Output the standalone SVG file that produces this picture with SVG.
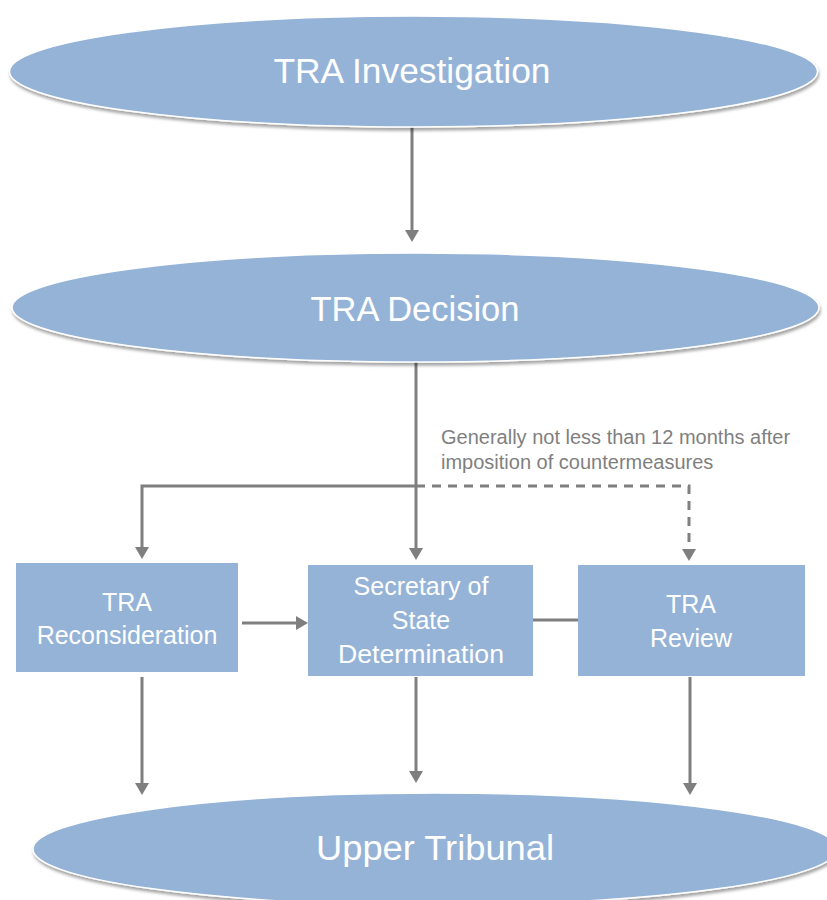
<svg xmlns="http://www.w3.org/2000/svg" width="827" height="900" viewBox="0 0 827 900">
  <style>
    .node { fill: #95b3d7; }
    .oval { fill: #95b3d7; stroke: #ffffff; stroke-width: 1.5; filter: url(#shadow); }
    .title { font-family: "Liberation Sans", Arial, sans-serif; font-size: 35px; fill: #ffffff; text-anchor: middle; }
    .label { font-family: "Liberation Sans", Arial, sans-serif; font-size: 25px; fill: #ffffff; text-anchor: middle; }
    .note { font-family: "Liberation Sans", Arial, sans-serif; font-size: 20px; fill: #7f7f7f; }
    .conn { fill: none; stroke: #7f7f7f; stroke-width: 3; }
    .arrow { marker-end: url(#ah); }
    .dash { stroke-dasharray: 9 7; }
  </style>
  <defs>
    <filter id="shadow" x="-5%" y="-20%" width="110%" height="150%">
      <feDropShadow dx="1" dy="3" stdDeviation="1.5" flood-color="#000000" flood-opacity="0.35"/>
    </filter>
    <marker id="ah" viewBox="0 0 12 14" refX="0" refY="7" markerWidth="12" markerHeight="14" markerUnits="userSpaceOnUse" orient="auto">
      <path d="M0,0 L12,7 L0,14 z" fill="#7f7f7f"/>
    </marker>
  </defs>
  <rect width="827" height="900" fill="#ffffff"/>

  <g id="connectors">
    <path class="conn arrow" d="M412,127 V230"/>
    <path class="conn arrow" d="M416,362 V548"/>
    <path class="conn arrow" d="M416,486 H142 V547"/>
    <path class="conn dash arrow" d="M416,486 H689 V549"/>
    <path class="conn arrow" d="M242,623 H296"/>
    <path class="conn" d="M533,620 H578"/>
    <path class="conn arrow" d="M142,677 V783"/>
    <path class="conn arrow" d="M416,677 V771"/>
    <path class="conn arrow" d="M690,677 V783"/>
  </g>

  <g id="note">
    <text class="note" x="441" y="444">Generally not less than 12 months after</text>
    <text class="note" x="441" y="469">imposition of countermeasures</text>
  </g>

  <g id="tra-investigation">
    <ellipse class="oval" cx="413.5" cy="71.5" rx="404" ry="55.5"/>
    <text class="title" x="412" y="83" textLength="277" lengthAdjust="spacingAndGlyphs">TRA Investigation</text>
  </g>

  <g id="tra-decision">
    <ellipse class="oval" cx="415.5" cy="307.5" rx="403.5" ry="54.5"/>
    <text class="title" x="415" y="321" textLength="209" lengthAdjust="spacingAndGlyphs">TRA Decision</text>
  </g>

  <g id="tra-reconsideration">
    <rect class="node" x="16" y="563" width="222" height="109"/>
    <text class="label" x="127" y="611">TRA</text>
    <text class="label" x="127" y="644">Reconsideration</text>
  </g>

  <g id="sos-determination">
    <rect class="node" x="308" y="565" width="225" height="111"/>
    <text class="label" x="421" y="595">Secretary of</text>
    <text class="label" x="421" y="629">State</text>
    <text class="label" x="421" y="663" textLength="166" lengthAdjust="spacingAndGlyphs">Determination</text>
  </g>

  <g id="tra-review">
    <rect class="node" x="578" y="565" width="227" height="111"/>
    <text class="label" x="691" y="613">TRA</text>
    <text class="label" x="691" y="647">Review</text>
  </g>

  <g id="upper-tribunal">
    <ellipse class="oval" cx="435" cy="849" rx="402" ry="56"/>
    <text class="title" x="435" y="860" textLength="238" lengthAdjust="spacingAndGlyphs">Upper Tribunal</text>
  </g>
</svg>
